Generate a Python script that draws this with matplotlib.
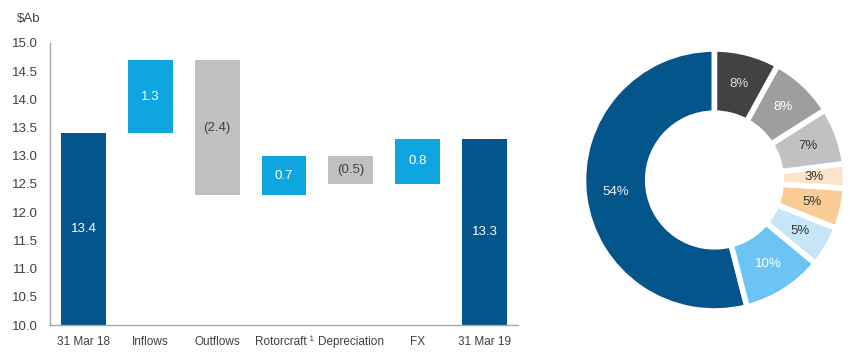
import matplotlib.pyplot as plt
from matplotlib.ticker import FormatStrFormatter

plt.rcParams['font.family'] = ['Liberation Sans', 'DejaVu Sans']

# waterfall data
steps = ['31 Mar 18', 'Inflows', 'Outflows', 'Rotorcraft ¹', 'Depreciation', 'FX', '31 Mar 19']
changes = [13.4, 1.3, -2.4, 0.7, -0.5, 0.8, 13.3]
labels = ['13.4', '1.3', '(2.4)', '0.7', '(0.5)', '0.8', '13.3']
kinds = ['total', 'up', 'down', 'up', 'down', 'up', 'total']

# donut data (counter-clockwise from 12 o'clock)
shares = [54, 10, 5, 5, 3, 7, 8, 8]
share_colors = ['#04558C', '#6CC4F5', '#C6E6F8', '#F9CC96', '#FCE4C8',
                '#C0C1C3', '#9D9EA0', '#404244']
text_colors = ['#E8F1F8', 'white', '#333333', '#333333', '#333333',
               '#333333', 'white', '#E0E0E0']

colors = {'total': '#04558C', 'up': '#0EA5E0', 'down': '#C0C0C2'}
tcol = {'total': 'white', 'up': 'white', 'down': '#404040'}

fig = plt.figure(figsize=(8.5, 3.6), dpi=100)
ax = fig.add_axes([50/850, 35/360, 468/850, 282/360])

bottoms, heights = [], []
level = 0
for c, k in zip(changes, kinds):
    if k == 'total':
        bottoms.append(10.0)
        heights.append(c - 10.0)
        level = c
    elif c >= 0:
        bottoms.append(level)
        heights.append(c)
        level += c
    else:
        bottoms.append(level + c)
        heights.append(-c)
        level += c

x = range(len(steps))
ax.bar(x, heights, bottom=bottoms, width=0.67,
       color=[colors[k] for k in kinds])
for i in x:
    ax.text(i, bottoms[i] + heights[i] / 2, labels[i], ha='center', va='center',
            fontsize=9.5, color=tcol[kinds[i]])

ax.set_xlim(-0.5, 6.5)
ax.set_ylim(10, 15)
ax.set_yticks([10 + 0.5 * i for i in range(11)])
ax.yaxis.set_major_formatter(FormatStrFormatter('%.1f'))
ax.set_xticks(list(x))
ax.set_xticklabels(steps)
ax.tick_params(length=0, colors='#404040')
ax.tick_params(axis='y', pad=9, labelsize=9.5)
ax.tick_params(axis='x', pad=8, labelsize=8.5)
for s in ['top', 'right']:
    ax.spines[s].set_visible(False)
for s in ['left', 'bottom']:
    ax.spines[s].set_color('#A6A6A6')
    ax.spines[s].set_linewidth(1)
fig.text(17/850, 1 - 19/360, '$Ab', fontsize=9.5, color='#404040', va='center')

# donut
cx, cy, half = 714.5, 180, 140
ax2 = fig.add_axes([(cx - half)/850, (360 - cy - half)/360, 2*half/850, 2*half/360])
lim = half / 131
wedges, texts, autotexts = ax2.pie(
    shares, colors=share_colors, startangle=90, counterclock=True,
    radius=1, autopct='%d%%', pctdistance=0.76,
    wedgeprops=dict(width=0.49, edgecolor='white', linewidth=4),
    textprops=dict(fontsize=9.5))
for t, c in zip(autotexts, text_colors):
    t.set_color(c)
ax2.set_xlim(-lim, lim)
ax2.set_ylim(-lim, lim)
ax2.set_aspect('equal')
ax2.axis('off')

fig.savefig('out.png', dpi=100)
